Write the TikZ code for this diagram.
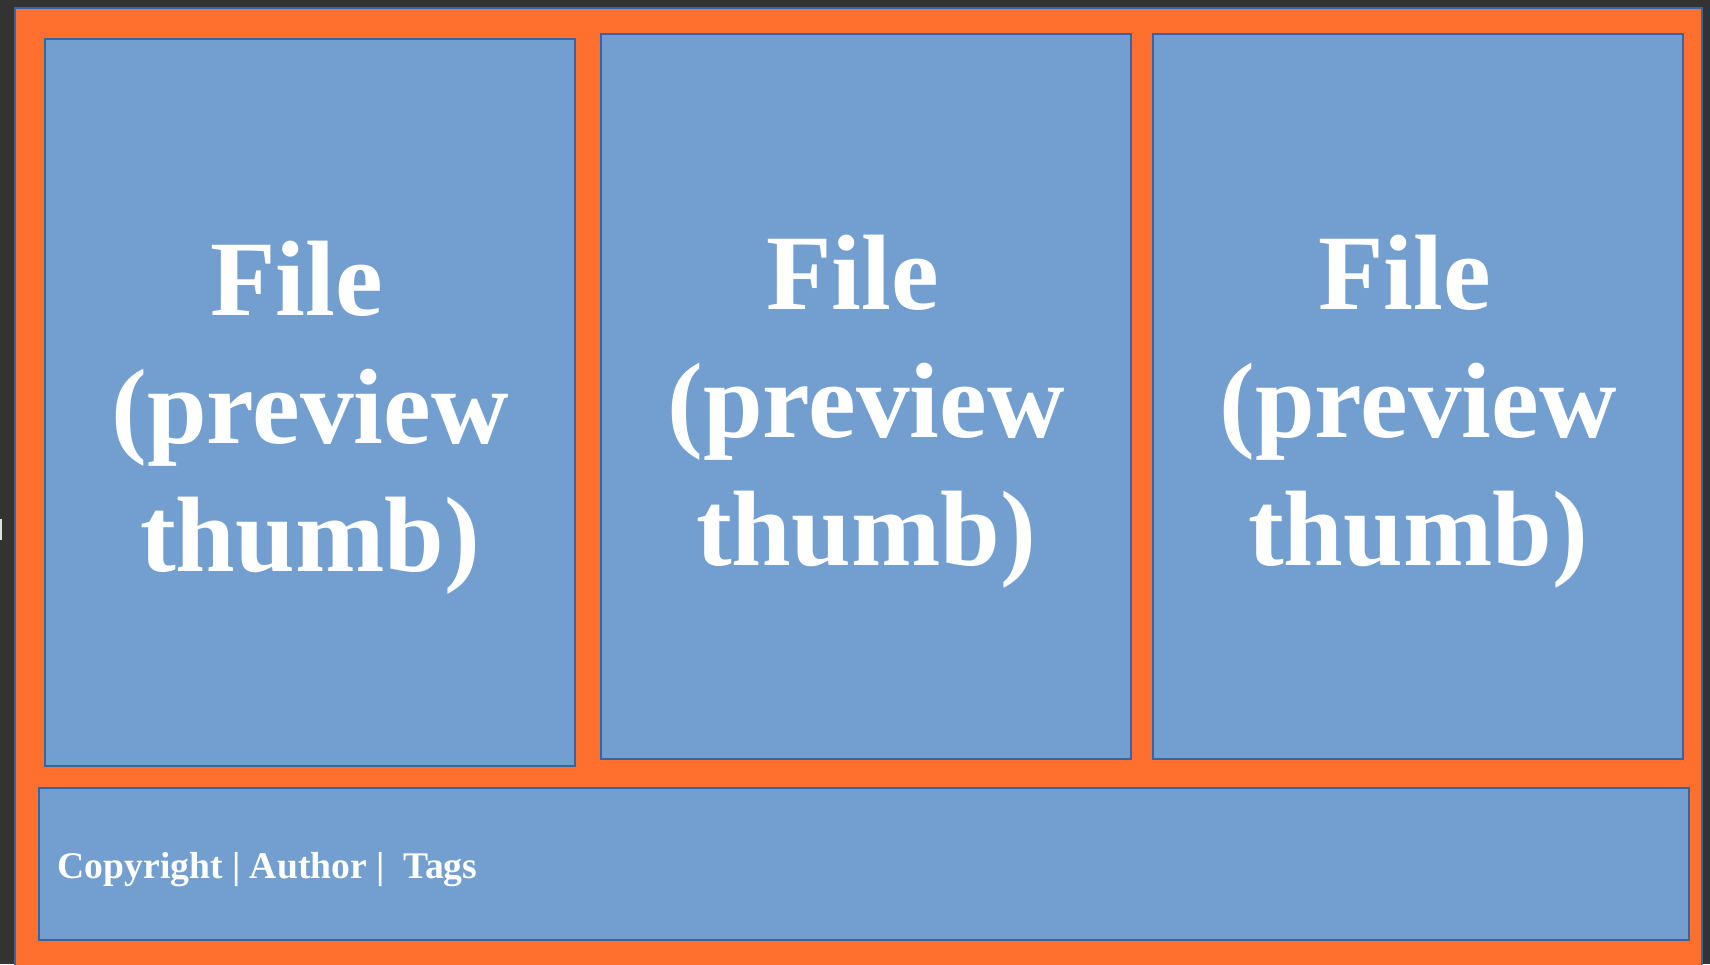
\documentclass[tikz,border=0pt]{standalone}
\usepackage{fontspec}
\setmainfont{Liberation Serif}
\definecolor{main}{RGB}{114,159,207}
\definecolor{second}{RGB}{255,111,46}
\definecolor{third}{RGB}{52,101,164}
\definecolor{back}{RGB}{51,51,51}
\usepackage{tikz}
\usetikzlibrary{
	positioning,
	calc
}
\tikzset{
  % frame
	cstframe/.style     ={fill=second,draw=third,line width=0.45pt},
  % node
	cstthumb/.style     ={fill=main,draw=third,line width=0.45pt,inner sep=0pt,anchor=north west,minimum width=5.3cm},
	cstbar/.style       ={fill=main,draw=third,line width=0.45pt,inner sep=0pt,anchor=north west,minimum width=16.49cm,minimum height=1.52cm},
  % text
	csttext/.style      ={text=white,font=\bfseries\fontsize{30.5}{36.4}\selectfont,align=center,inner sep=0pt},
	cstinfo/.style      ={text=white,font=\bfseries\fontsize{10.7}{13}\selectfont,inner sep=0pt,anchor=base west}
}
\begin{document}
\begin{tikzpicture}[x=0.01cm,y=-0.01cm]
	\useasboundingbox (0,0) rectangle (1710,964);
	\fill[back] (0,0) rectangle (1710,964);
	\fill[white!85!back] (0,519) rectangle (2,540);
	\draw[cstframe] (15,8) rectangle (1702,980);
	% thumbs
	\node[cstthumb,minimum height=7.27cm] (thumb1) at (44,38) {};
	\node[cstthumb,minimum height=7.25cm] (thumb2) at (600,33) {};
	\node[cstthumb,minimum height=7.25cm] (thumb3) at (1152,33) {};
	\foreach \i in {1,2,3}
		\node[csttext] (file\i) at ([yshift=-0.155cm]thumb\i.center) {File\ \mbox{}\\(preview\\thumb)};
	% footer
	\node[cstbar] (footer) at (38,787) {};
	\node[cstinfo] (info) at (57,878) {Copyright | Author |\ \ Tags};
\end{tikzpicture}
\end{document}
